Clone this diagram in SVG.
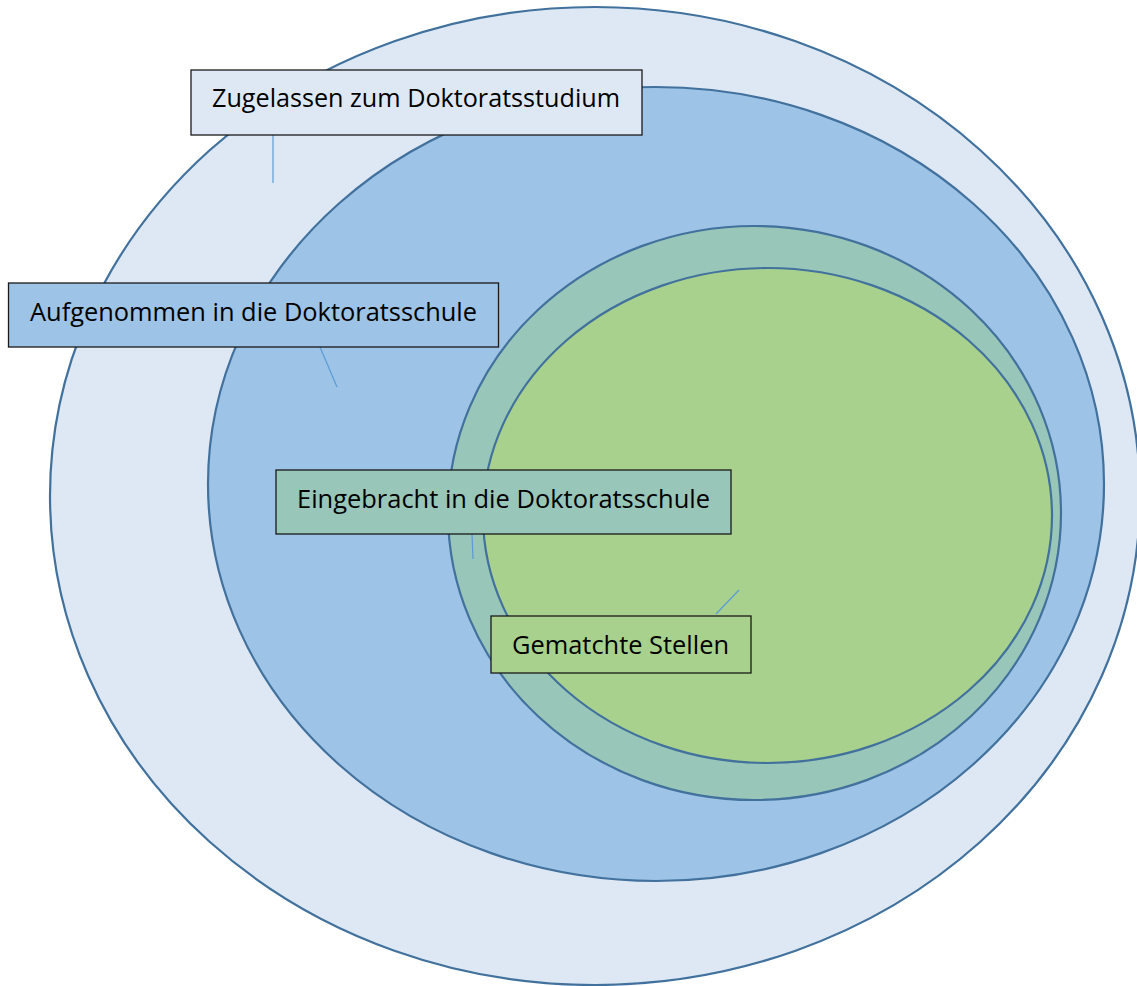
<svg xmlns="http://www.w3.org/2000/svg" width="1137" height="986" viewBox="0 0 1137 986">
<style>
.ring{stroke:#41719c;stroke-width:2.2}
.box{stroke:#1a1a1a;stroke-width:1.3}
.lbl{font-family:"Open Sans","Noto Sans","Liberation Sans",sans-serif;font-size:25.5px;fill:#000}
.conn{stroke:#5b9bd5;stroke-width:1.2;fill:none}
</style>
<rect width="1137" height="986" fill="#ffffff"/>
<g id="ellipses">
<ellipse id="e1" class="ring" cx="595" cy="496" rx="545" ry="489" fill="#dee8f4"/>
<ellipse id="e2" class="ring" cx="656" cy="484" rx="448" ry="397" fill="#9dc3e6"/>
<ellipse id="e3" class="ring" cx="754.5" cy="513" rx="306.5" ry="287" fill="#98c6b8"/>
<ellipse id="e4" class="ring" cx="767.5" cy="515.5" rx="284.5" ry="247.5" fill="#a9d18e"/>
</g>
<g id="connectors">
<line class="conn" x1="273" y1="135" x2="273" y2="183"/>
<line class="conn" x1="320" y1="347" x2="337" y2="387"/>
<line class="conn" x1="472" y1="534" x2="473" y2="559"/>
<line class="conn" x1="716" y1="614" x2="739" y2="590"/>
</g>
<g id="node1">
<rect class="box" x="191" y="70" width="451" height="65" fill="#dee8f4"/>
<text class="lbl" x="212" y="107" textLength="408" lengthAdjust="spacingAndGlyphs">Zugelassen zum Doktoratsstudium</text>
</g>
<g id="node2">
<rect class="box" x="8.5" y="283" width="490" height="64" fill="#9dc3e6"/>
<text class="lbl" x="30" y="321" textLength="447" lengthAdjust="spacingAndGlyphs">Aufgenommen in die Doktoratsschule</text>
</g>
<g id="node3">
<rect class="box" x="276" y="470" width="455" height="64" fill="#98c6b8"/>
<text class="lbl" x="297" y="508" textLength="413" lengthAdjust="spacingAndGlyphs">Eingebracht in die Doktoratsschule</text>
</g>
<g id="node4">
<rect class="box" x="491" y="616" width="260" height="57" fill="#a9d18e"/>
<text class="lbl" x="512" y="654" textLength="217" lengthAdjust="spacingAndGlyphs">Gematchte Stellen</text>
</g>
</svg>
